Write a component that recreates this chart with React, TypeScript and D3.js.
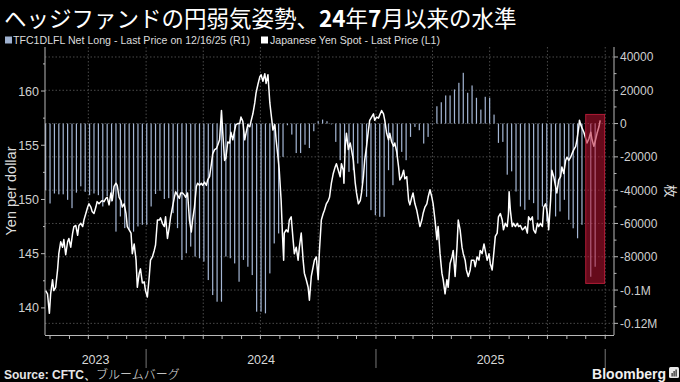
import React from "react";
import * as d3 from "d3";

// ---------- data ----------
const titleParts = [
  { t: "ヘッジファンドの円弱気姿勢、", b: false },
  { t: "24", b: true },
  { t: "年", b: false },
  { t: "7", b: true },
  { t: "月以来の水準", b: false },
];
const legendBars = "TFC1DLFL Net Long - Last Price on 12/16/25 (R1)";
const legendLine = "Japanese Yen Spot - Last Price (L1)";
const leftAxisTitle = "Yen per dollar";
const rightAxisTitle = "枚";
const sourceBold = "Source: CFTC、";
const sourceRest = "ブルームバーグ";

const xStart = "2023-07-24";
const xEnd = "2026-01-15";
const leftDomain = [137.5, 164.06];
const rightDomain = [-127000, 46000];
const leftTicks = [140, 145, 150, 155, 160];
const leftMinorTicks = [142.5, 147.5, 152.5, 157.5, 162.5];
const rightTicks = [40000, 20000, 0, -20000, -40000, -60000, -80000, -100000, -120000];
const rightTickLabels = ["40000", "20000", "0", "-20000", "-40000", "-60000", "-80000", "-0.1M", "-0.12M"];
const rightMinorTicks = [30000, 10000, -10000, -30000, -50000, -70000, -90000, -110000];
const years = [2023, 2024, 2025];

// CFTC weekly net long (contracts), Tuesdays from cotStart
const cotStart = "2023-07-25";
const netLong: (number | null)[] = [
  -40000, -48000, -42000, -42500, -42500, -45800, -50800, -41500, -37700, -41000,
  -43000, -42000, -43000, -49800, -43500, -46800, -64900, -55800, -62800, -63800,
  -64900, -61800, -60800, -60800, -49800, -42300, -40400, -45300, -44800, -53800,
  -62800, -81900, -77900, -73900, -79900, -80900, -82900, -94000, -103000, -107000,
  -107000, -79900, -80900, -84000, -95000, -81900, -86000, -91000, -113000, -113000,
  -114000, -90000, -72000, -66000, -20000, -1000, -6600, -17700, -17700, -12700,
  -14700, -4600, 1400, 2400, 1400, -500, -11000, -22000, -18000, -29000,
  -28000, -24000, -36000, -44000, -52000, -55000, -56000, -56000, -28000, -37000,
  -20000, -17000, -22000, -8000, -2000, -4000, -12000, -8000, -500, 10400,
  12800, 16900, 16900, 20500, 24500, 30500, 18500, 22900, 15500, 8400,
  16100, 15500, 5400, -11600, -11000, -30700, -28700, -40800, -49800, -51800,
  -45800, -47800, -57800, -49800, -58800, -40800, -55800, -52800, -45800, -57800,
  -62900, -68900, -60800, null, -92000, -86000,
];

// USD/JPY spot
const yenSpot: [string, number][] = [
  ["2023-07-25",141.6],["2023-07-28",141.3],["2023-07-31",139.5],["2023-08-02",141.3],["2023-08-05",142.6],["2023-08-07",141.6],["2023-08-10",141.9],["2023-08-13",143.5],["2023-08-15",145.0],["2023-08-18",146.1],["2023-08-21",145.6],["2023-08-23",146.3],["2023-08-26",144.9],["2023-08-29",146.1],["2023-08-31",146.4],["2023-09-03",145.6],["2023-09-06",146.9],["2023-09-08",147.5],["2023-09-11",147.6],["2023-09-14",146.7],["2023-09-16",147.6],["2023-09-19",147.8],["2023-09-22",147.5],["2023-09-24",148.1],["2023-09-27",148.7],["2023-09-30",149.3],["2023-10-02",149.6],["2023-10-05",149.3],["2023-10-07",148.9],["2023-10-10",148.7],["2023-10-13",149.3],["2023-10-15",149.8],["2023-10-18",149.6],["2023-10-21",149.8],["2023-10-23",149.9],["2023-10-26",149.8],["2023-10-29",150.1],["2023-10-31",150.2],["2023-11-03",149.5],["2023-11-06",150.6],["2023-11-08",149.9],["2023-11-11",151.2],["2023-11-14",151.5],["2023-11-16",151.3],["2023-11-19",150.2],["2023-11-22",149.9],["2023-11-24",149.3],["2023-11-27",149.6],["2023-11-30",148.7],["2023-12-02",147.5],["2023-12-05",147.2],["2023-12-08",146.9],["2023-12-10",145.0],["2023-12-13",145.9],["2023-12-16",144.4],["2023-12-18",141.9],["2023-12-21",143.2],["2023-12-23",143.6],["2023-12-26",142.3],["2023-12-29",142.4],["2023-12-31",141.6],
  ["2024-01-03",141.0],["2024-01-06",142.9],["2024-01-08",144.4],["2024-01-11",144.7],["2024-01-14",145.3],["2024-01-16",145.8],["2024-01-19",148.1],["2024-01-22",148.1],["2024-01-24",148.3],["2024-01-27",147.8],["2024-01-30",147.5],["2024-02-01",148.4],["2024-02-04",146.4],["2024-02-07",147.5],["2024-02-09",148.4],["2024-02-12",149.3],["2024-02-15",150.2],["2024-02-17",150.7],["2024-02-20",150.4],["2024-02-23",150.1],["2024-02-25",150.6],["2024-02-28",150.6],["2024-03-02",150.4],["2024-03-04",150.2],["2024-03-07",150.6],
  ["2024-03-10",148.1],["2024-03-13",147.0],["2024-03-15",148.1],["2024-03-18",149.3],["2024-03-21",151.2],["2024-03-23",151.5],["2024-03-26",151.3],["2024-03-29",151.5],["2024-03-31",151.3],["2024-04-03",151.6],["2024-04-06",151.3],["2024-04-08",151.8],["2024-04-11",152.1],["2024-04-14",153.3],["2024-04-16",154.2],["2024-04-19",154.6],["2024-04-22",154.7],["2024-04-24",155.0],["2024-04-27",155.5],["2024-04-30",158.2],["2024-05-02",156.2],["2024-05-05",153.6],["2024-05-07",153.8],["2024-05-10",155.3],["2024-05-13",155.2],["2024-05-15",156.2],["2024-05-18",155.5],["2024-05-21",156.4],["2024-05-23",156.9],["2024-05-26",157.0],["2024-05-29",157.0],["2024-05-31",157.6],["2024-06-03",157.2],["2024-06-06",155.5],["2024-06-08",156.1],["2024-06-11",156.9],["2024-06-14",156.7],["2024-06-16",157.2],["2024-06-19",157.9],["2024-06-22",158.9],["2024-06-24",159.8],["2024-06-27",160.6],["2024-06-30",161.3],["2024-07-02",161.5],["2024-07-05",160.9],["2024-07-08",161.6],["2024-07-10",160.7],["2024-07-13",161.5],["2024-07-16",158.9],["2024-07-18",157.9],["2024-07-21",156.4],["2024-07-24",156.9],["2024-07-26",155.5],["2024-07-29",153.9],["2024-07-31",152.7],["2024-08-03",149.9],["2024-08-05",146.9],["2024-08-07",144.4],["2024-08-08",146.9],["2024-08-11",147.2],["2024-08-14",147.0],["2024-08-16",148.1],["2024-08-19",148.4],["2024-08-22",146.3],["2024-08-24",145.0],["2024-08-27",145.6],["2024-08-30",144.4],["2024-09-01",145.6],["2024-09-04",146.9],["2024-09-07",144.4],["2024-09-09",143.2],["2024-09-12",142.6],["2024-09-15",141.9],["2024-09-17",140.7],["2024-09-20",142.9],["2024-09-23",143.8],["2024-09-25",144.4],["2024-09-28",144.7],["2024-10-01",142.6],["2024-10-03",145.3],["2024-10-06",148.1],["2024-10-09",148.7],["2024-10-11",149.0],["2024-10-14",149.6],["2024-10-17",149.9],["2024-10-19",150.2],
  ["2024-10-22",151.5],["2024-10-25",152.4],["2024-10-28",153.0],["2024-10-30",153.3],["2024-11-02",152.7],["2024-11-05",152.1],["2024-11-07",153.3],["2024-11-10",152.7],["2024-11-11",151.5],["2024-11-13",154.9],["2024-11-15",156.1],["2024-11-18",154.6],["2024-11-21",155.2],["2024-11-23",154.6],["2024-11-26",153.6],["2024-11-29",151.5],["2024-12-01",150.6],["2024-12-04",149.6],["2024-12-07",149.9],["2024-12-09",150.6],["2024-12-12",152.1],["2024-12-14",153.6],["2024-12-17",154.9],["2024-12-20",156.4],["2024-12-22",157.3],["2024-12-25",157.6],["2024-12-28",157.9],["2024-12-30",157.3],["2025-01-02",157.6],["2025-01-05",157.5],["2025-01-07",157.8],["2025-01-10",158.2],["2025-01-13",157.9],["2025-01-15",157.3],["2025-01-18",156.1],["2025-01-21",155.5],["2025-01-23",156.1],["2025-01-26",155.3],["2025-01-29",154.9],["2025-01-31",155.2],["2025-02-03",154.4],["2025-02-06",153.0],["2025-02-08",151.8],["2025-02-11",152.1],["2025-02-14",152.7],["2025-02-16",151.9],["2025-02-19",152.1],["2025-02-22",149.9],["2025-02-24",149.5],["2025-02-27",150.2],["2025-03-01",150.6],["2025-03-04",149.6],["2025-03-07",149.0],["2025-03-09",148.4],["2025-03-12",147.5],["2025-03-15",148.1],["2025-03-17",148.7],["2025-03-20",149.3],["2025-03-23",149.6],["2025-03-25",150.2],["2025-03-28",150.9],["2025-03-31",150.2],["2025-04-02",149.6],["2025-04-05",148.1],["2025-04-08",146.3],["2025-04-10",147.5],["2025-04-13",145.0],["2025-04-16",143.2],["2025-04-18",142.6],["2025-04-21",141.3],["2025-04-24",142.6],["2025-04-26",141.9],["2025-04-29",144.1],["2025-05-02",144.7],["2025-05-04",145.3],["2025-05-07",142.9],["2025-05-10",145.6],["2025-05-12",148.1],["2025-05-15",147.2],["2025-05-18",145.6],["2025-05-20",145.0],["2025-05-23",144.4],["2025-05-25",143.5],["2025-05-28",142.9],["2025-05-31",143.5],["2025-06-02",144.4],
  ["2025-06-06",144.4],["2025-06-08",143.8],["2025-06-11",144.7],["2025-06-14",144.4],["2025-06-16",145.3],["2025-06-19",145.0],["2025-06-22",145.9],["2025-06-24",145.3],["2025-06-27",144.4],["2025-06-30",145.0],["2025-07-02",144.1],["2025-07-05",143.5],["2025-07-08",145.3],["2025-07-10",146.6],["2025-07-13",146.9],["2025-07-15",148.4],["2025-07-18",148.7],["2025-07-21",148.1],["2025-07-23",147.2],["2025-07-26",147.8],["2025-07-29",147.5],["2025-07-31",148.7],["2025-08-01",150.7],["2025-08-03",149.0],["2025-08-06",147.5],["2025-08-08",147.8],["2025-08-11",147.5],["2025-08-14",147.8],["2025-08-16",147.5],["2025-08-19",147.6],["2025-08-22",147.2],["2025-08-24",147.3],["2025-08-27",147.5],["2025-08-30",146.9],["2025-09-01",148.4],["2025-09-04",148.1],["2025-09-07",148.4],["2025-09-09",147.2],["2025-09-12",146.9],["2025-09-15",147.8],["2025-09-17",147.5],["2025-09-20",147.8],["2025-09-23",147.5],["2025-09-25",149.3],["2025-09-28",149.6],["2025-10-01",148.7],["2025-10-03",147.2],["2025-10-06",149.9],["2025-10-08",152.7],["2025-10-11",152.1],["2025-10-14",151.2],["2025-10-16",150.6],["2025-10-19",151.8],["2025-10-22",152.1],["2025-10-24",153.0],["2025-10-27",152.4],["2025-10-30",153.6],["2025-11-01",153.9],["2025-11-04",153.6],["2025-11-07",153.9],["2025-11-09",154.2],["2025-11-12",154.6],["2025-11-15",154.9],["2025-11-17",155.5],["2025-11-20",156.7],["2025-11-21",157.3],["2025-11-23",156.9],["2025-11-25",156.6],["2025-11-28",156.2],["2025-12-01",155.6],["2025-12-03",155.2],["2025-12-06",155.6],["2025-12-09",156.2],["2025-12-11",155.5],["2025-12-14",154.9],["2025-12-17",155.6],["2025-12-19",156.1],["2025-12-22",156.7],["2025-12-24",157.3],
];

// highlighted region (data space: dates and right-axis values)
const highlightDates = ["2025-12-01", "2025-12-31"];
const highlightValues = [5500, -96000];

// ---------- chart ----------
const W = 680;
const H = 382;
const L = 45, R = 614, T = 47, B = 335;
const LATIN = "'Liberation Sans', Arial, sans-serif";
const CJK = "'Noto Sans CJK JP', 'Noto Sans', sans-serif";

export default function App() {
  const parse = d3.timeParse("%Y-%m-%d");
  const x = d3.scaleTime().domain([parse(xStart)!, parse(xEnd)!]).range([L, R]);
  const yL = d3.scaleLinear().domain(leftDomain).range([B, T]);
  const yR = d3.scaleLinear().domain(rightDomain).range([B, T]);

  const start = parse(cotStart)!;
  const bars = netLong
    .map((v, i) => ({ date: d3.timeDay.offset(start, i * 7), v }))
    .filter((d) => d.v !== null) as { date: Date; v: number }[];

  const linePath = d3
    .line<[string, number]>()
    .x((d) => x(parse(d[0])!))
    .y((d) => yL(d[1]))(yenSpot) as string;

  const [d0, d1] = x.domain();
  const quarters = d3.timeMonth.every(3)!.range(d0, d1).filter((d) => x(d) > L + 1);
  const months = d3.timeMonth.range(d0, d1);
  const yearStarts = d3.timeYear.range(d0, d1);

  const hx0 = x(parse(highlightDates[0])!);
  const hx1 = x(parse(highlightDates[1])!);
  const hy0 = yR(highlightValues[0]);
  const hy1 = yR(highlightValues[1]);

  const gridColor = "#4a4a4a";
  const axisColor = "#b8b8b8";

  return (
    <svg
      width={W}
      height={H}
      viewBox={`0 0 ${W} ${H}`}
      style={{ position: "fixed", left: 0, top: 0, background: "#000", display: "block" }}
    >
      <rect x={0} y={0} width={W} height={H} fill="#000" />

      {/* title */}
      <text x={4} y={27} fill="#fff" fontFamily={CJK} fontSize={22.5}>
        {titleParts.map((p, i) => (
          <tspan key={i} fontWeight={p.b ? 700 : 400}>
            {p.t}
          </tspan>
        ))}
      </text>

      {/* legend */}
      <rect x={5} y={36.5} width={7} height={7} fill="#9fb1cf" />
      <text x={13} y={44} fill="#dcdcdc" fontFamily={LATIN} fontSize={11} textLength={237} lengthAdjust="spacingAndGlyphs">
        {legendBars}
      </text>
      <rect x={261} y={36.5} width={7} height={7} fill="#ffffff" />
      <text x={270} y={44} fill="#dcdcdc" fontFamily={LATIN} fontSize={11} textLength={170} lengthAdjust="spacingAndGlyphs">
        {legendLine}
      </text>

      {/* horizontal grid (right axis) */}
      {rightTicks.map((v) => (
        <line key={"hg" + v} x1={L} x2={R} y1={yR(v)} y2={yR(v)} stroke={gridColor} strokeWidth={1} strokeDasharray="1.5,2" />
      ))}
      {/* vertical grid (quarters) */}
      {quarters.map((d) => (
        <line key={"vg" + +d} x1={x(d)} x2={x(d)} y1={T} y2={B} stroke={gridColor} strokeWidth={1} strokeDasharray="1.5,2" />
      ))}

      {/* bars */}
      {bars.map((d) => (
        <rect
          key={"b" + +d.date}
          x={x(d.date) - 0.6}
          width={1.2}
          y={yR(Math.max(0, d.v))}
          height={Math.abs(yR(d.v) - yR(0))}
          fill="#a4b6d4"
        />
      ))}

      {/* line */}
      <path d={linePath} fill="none" stroke="#ffffff" strokeWidth={1.5} strokeLinejoin="round" />

      {/* highlight box */}
      <rect
        x={hx0}
        y={hy0}
        width={hx1 - hx0}
        height={hy1 - hy0}
        fill="rgba(185,18,50,0.55)"
        stroke="#b01c36"
        strokeWidth={1}
      />

      {/* axes lines */}
      <line x1={L} x2={L} y1={T} y2={B} stroke={axisColor} strokeWidth={1} />
      <line x1={R} x2={R} y1={T} y2={B} stroke={axisColor} strokeWidth={1} />
      <line x1={L} x2={R} y1={B + 0.5} y2={B + 0.5} stroke={axisColor} strokeWidth={1} />

      {/* left ticks */}
      {leftTicks.map((v) => (
        <g key={"lt" + v}>
          <line x1={L - 4} x2={L} y1={yL(v)} y2={yL(v)} stroke={axisColor} />
          <text x={L - 6} y={yL(v) + 4.5} textAnchor="end" fill="#cfcfcf" fontFamily={LATIN} fontSize={12.5}>
            {v}
          </text>
        </g>
      ))}
      {leftMinorTicks.map((v) => (
        <line key={"lm" + v} x1={L - 2} x2={L} y1={yL(v)} y2={yL(v)} stroke={axisColor} />
      ))}

      {/* right ticks */}
      {rightTicks.map((v, i) => (
        <g key={"rt" + v}>
          <line x1={R} x2={R + 4} y1={yR(v)} y2={yR(v)} stroke={axisColor} />
          <text x={R + 6} y={yR(v) + 4.5} fill="#cfcfcf" fontFamily={LATIN} fontSize={12}>
            {rightTickLabels[i]}
          </text>
        </g>
      ))}
      {rightMinorTicks.map((v) => (
        <line key={"rm" + v} x1={R} x2={R + 2.5} y1={yR(v)} y2={yR(v)} stroke={axisColor} />
      ))}

      {/* bottom month ticks */}
      {months.map((d) => (
        <line key={"mt" + +d} x1={x(d)} x2={x(d)} y1={B + 0.5} y2={B + 4} stroke={axisColor} />
      ))}
      {/* year separators */}
      {yearStarts.map((d) => (
        <line key={"ys" + +d} x1={x(d)} x2={x(d)} y1={349} y2={368} stroke="#777" />
      ))}
      {years.map((yr) => {
        const a = Math.max(L, x(new Date(yr, 0, 1)));
        const b = Math.min(R, x(new Date(yr + 1, 0, 1)));
        return (
          <text key={"yl" + yr} x={(a + b) / 2} y={364} textAnchor="middle" fill="#d8d8d8" fontFamily={LATIN} fontSize={12.5}>
            {yr}
          </text>
        );
      })}

      {/* axis titles */}
      <text transform={`translate(16,${(T + B) / 2}) rotate(-90)`} textAnchor="middle" fill="#dcdcdc" fontFamily={LATIN} fontSize={14.5}>
        {leftAxisTitle}
      </text>
      <text transform="translate(671,191) rotate(90)" textAnchor="middle" dominantBaseline="central" fill="#dcdcdc" fontFamily={CJK} fontSize={13}>
        {rightAxisTitle}
      </text>

      {/* source */}
      <text x={4} y={379} fill="#e6e6e6" fontSize={12}>
        <tspan fontFamily={LATIN} fontWeight={700}>{sourceBold}</tspan>
        <tspan fontFamily={CJK} fontWeight={300}>{sourceRest}</tspan>
      </text>

      {/* Bloomberg mark */}
      <text x={666} y={379} textAnchor="end" fill="#f0f0f0" fontFamily={LATIN} fontWeight={700} fontSize={14}>
        Bloomberg
      </text>
      <rect x={669} y={367} width={10} height={11} rx={1.5} fill="#e8e8e8" />
      <rect x={671.5} y={373} width={1.2} height={3.5} fill="#222" />
      <rect x={673.5} y={371} width={1.2} height={5.5} fill="#222" />
      <rect x={675.5} y={369.5} width={1.2} height={7} fill="#222" />
    </svg>
  );
}
